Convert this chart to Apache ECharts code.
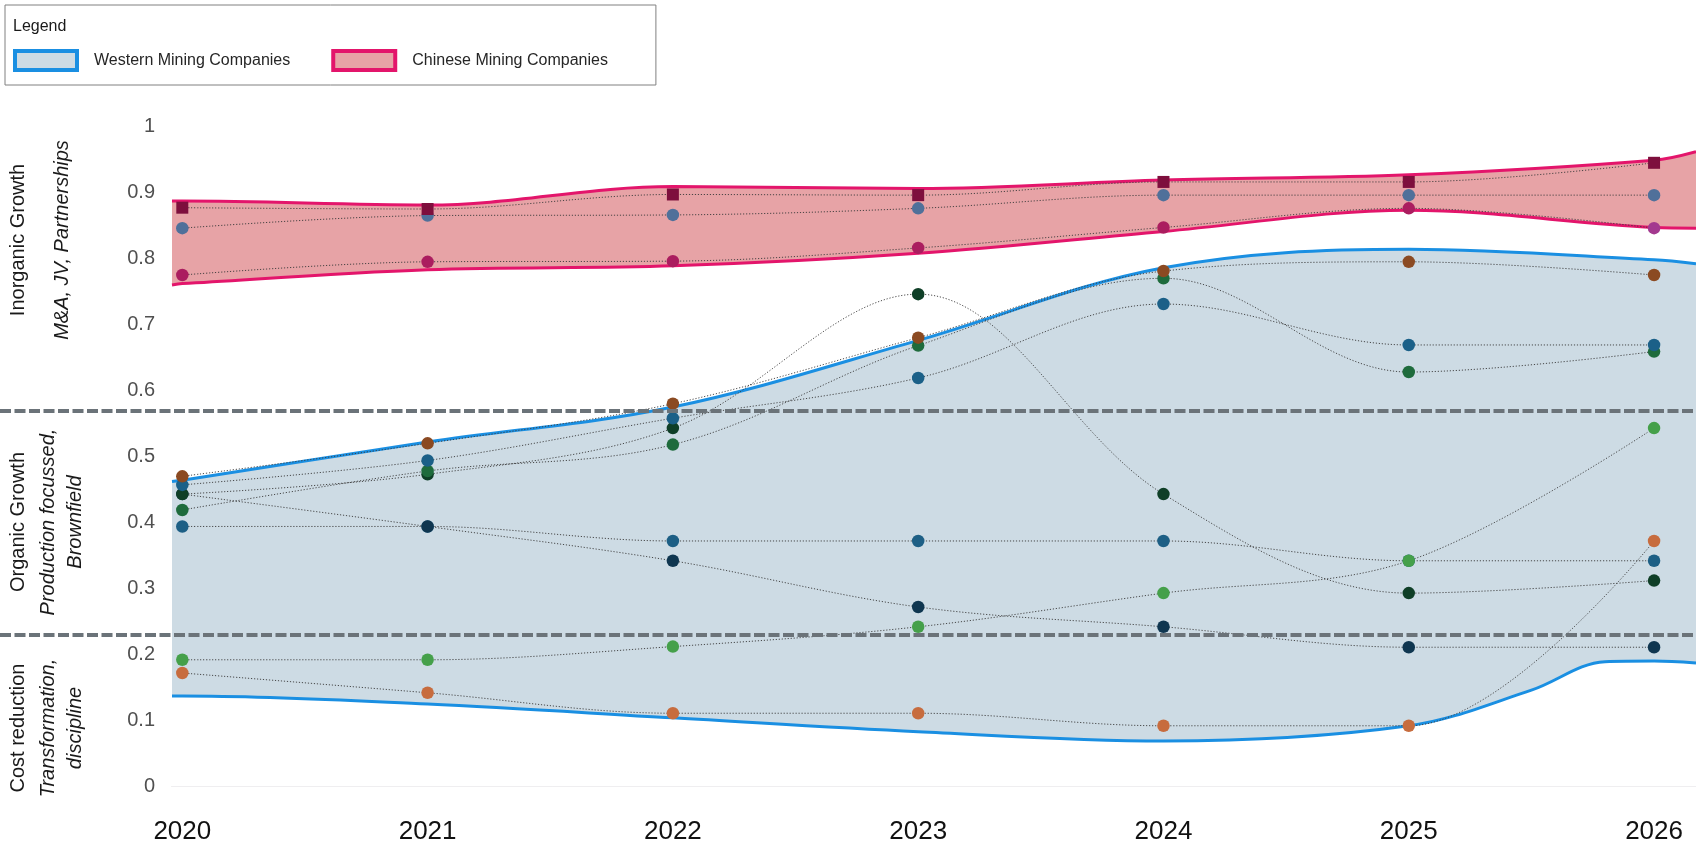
<!DOCTYPE html>
<html>
<head>
<meta charset="utf-8">
<script src="https://cdn.jsdelivr.net/npm/echarts@6/dist/echarts.min.js"></script>
<style>
html,body{margin:0;padding:0;background:#ffffff;}
#chart{width:1696px;height:846px;}
</style>
</head>
<body>
<div id="chart"></div>
<script>
// ---------- DATA ----------
const years = [2020, 2021, 2022, 2023, 2024, 2025, 2026];
const xMin = 2019.958;
const xMax = 2026.171;

// Chinese mining companies
const cnSquare  = [0.877, 0.875, 0.897, 0.896, 0.916, 0.916, 0.945];
const cnCircle  = [0.846, 0.865, 0.866, 0.876, 0.896, 0.896, 0.896];
const cnMagenta = [0.775, 0.795, 0.796, 0.816, 0.847, 0.876, 0.846];

// Western mining companies
const wBrown      = [0.470, 0.520, 0.580, 0.680, 0.781, 0.795, 0.775];
const wTealA      = [0.457, 0.494, 0.558, 0.619, 0.731, 0.669, 0.669];
const wGreen      = [0.419, 0.478, 0.518, 0.668, 0.770, 0.628, 0.659];
const wDark       = [0.443, 0.473, 0.543, 0.746, 0.443, 0.293, 0.312];
const wTealB      = [0.394, 0.394, 0.372, 0.372, 0.372, 0.342, 0.342];
const wNavy       = [0.443, 0.394, 0.342, 0.272, 0.242, 0.211, 0.211];
const wLightGreen = [0.192, 0.192, 0.212, 0.242, 0.293, 0.342, 0.543];
const wOrange     = [0.172, 0.142, 0.111, 0.111, 0.092, 0.092, 0.372];

// Envelope bands
const cnUpperX = [2019.958, 2020, 2021, 2022, 2023, 2024, 2025, 2026, 2026.171];
const cnUpper  = [0.887, 0.887, 0.881, 0.909, 0.906, 0.919, 0.927, 0.949, 0.962];
const cnLowerX = [2019.958, 2020, 2021, 2022, 2023, 2024, 2025, 2026, 2026.171];
const cnLower  = [0.760, 0.762, 0.783, 0.789, 0.808, 0.841, 0.873, 0.847, 0.846];
const wUpperX  = [2019.958, 2020, 2021, 2022, 2023, 2024, 2025, 2026, 2026.171];
const wUpper   = [0.462, 0.464, 0.522, 0.575, 0.676, 0.786, 0.814, 0.798, 0.792];
const wLowerX  = [2019.958, 2020, 2021, 2022, 2023, 2024, 2025, 2025.5, 2025.8, 2026, 2026.171];
const wLower   = [0.137, 0.137, 0.125, 0.104, 0.083, 0.069, 0.092, 0.146, 0.189, 0.190, 0.187];

// Section dividers on the y scale
const sectionBreaks = [0.57, 0.23];

// Legend / axis names
const legendNames = ['Western Mining Companies', 'Chinese Mining Companies'];
const sectionTitles = ['Inorganic Growth', 'Organic Growth', 'Cost reduction'];
const sectionSubtitles = ['M&A, JV, Partnerships', 'Production focussed,\nBrownfield', 'Transformation,\ndiscipline'];

// ---------- STYLES ----------
const C = {
  wLine: '#1a8fe2', wFill: '#cddbe4',
  cnLine: '#e3156b', cnFill: '#e7a3a6',
  dotLine: '#3a3a3a', divider: '#6b7379'
};
const FONT = "'Liberation Sans', Arial, sans-serif";
const SMOOTH = 0.35;

function zip(xs, ys) { return xs.map((x, i) => [x, ys[i]]); }

function bandSeries(name, xs, ys, lineColor, fillColor) {
  return {
    name: name, type: 'line', data: zip(xs, ys), smooth: SMOOTH,
    symbol: 'none', silent: true, z: 2,
    lineStyle: { color: lineColor, width: 3 },
    itemStyle: { color: lineColor },
    areaStyle: { color: fillColor, opacity: 1, origin: 'start' }
  };
}

function companySeries(name, vals, color, symbol, pointColors) {
  return {
    name: name, type: 'line', smooth: SMOOTH, z: 4, silent: true,
    data: vals.map((v, i) => {
      const d = { value: [years[i], v] };
      if (pointColors && pointColors[i]) d.itemStyle = { color: pointColors[i] };
      return d;
    }),
    symbol: symbol || 'circle', symbolSize: symbol === 'rect' ? 12 : 12.5, showSymbol: true,
    itemStyle: { color: color, opacity: 1 },
    lineStyle: { color: C.dotLine, width: 1, type: [1.2, 1.8], opacity: 0.9 }
  };
}

const magentaColors = [null, null, null, null, null, null, '#a3398f'];

const series = [
  bandSeries(legendNames[1], cnUpperX, cnUpper, C.cnLine, C.cnFill),
  bandSeries('cnLowerEdge', cnLowerX, cnLower, C.cnLine, '#ffffff'),
  bandSeries(legendNames[0], wUpperX, wUpper, C.wLine, C.wFill),
  bandSeries('wLowerEdge', wLowerX, wLower, C.wLine, '#ffffff'),

  companySeries('CN circle', cnCircle, '#50709a'),
  companySeries('CN magenta', cnMagenta, '#ab1d5f', 'circle', magentaColors),
  companySeries('CN square', cnSquare, '#7e0f3d', 'rect'),

  companySeries('W tealB', wTealB, '#1d5f85'),
  companySeries('W navy', wNavy, '#0f3650'),
  companySeries('W dark', wDark, '#0f3f27'),
  companySeries('W green', wGreen, '#1e6b3c'),
  companySeries('W tealA', wTealA, '#1b6088'),
  companySeries('W brown', wBrown, '#8b4a22'),
  companySeries('W orange', wOrange, '#c76c3e'),
  companySeries('W lightgreen', wLightGreen, '#45a04a'),

  {
    name: 'dividers', type: 'line', xAxisIndex: 1, yAxisIndex: 1, data: [],
    silent: true, z: 3,
    markLine: {
      silent: true, symbol: ['none', 'none'], label: { show: false },
      lineStyle: { color: C.divider, width: 4, type: [11, 3.5], opacity: 1 },
      emphasis: { disabled: true },
      data: sectionBreaks.map(v => ({ yAxis: v }))
    }
  }
];

const sectionCenters = [240, 522, 728];
const graphics = [];
sectionTitles.forEach((t, i) => {
  graphics.push({
    type: 'text', x: 18, y: sectionCenters[i], rotation: Math.PI / 2, silent: true,
    style: { text: t, fontSize: 20, fontFamily: FONT, fill: '#1a1a1a', align: 'center', verticalAlign: 'middle' }
  });
  graphics.push({
    type: 'text', x: 62, y: sectionCenters[i], rotation: Math.PI / 2, silent: true,
    style: { text: sectionSubtitles[i], fontSize: 20, fontStyle: 'italic', fontFamily: FONT, fill: '#1a1a1a',
             align: 'center', verticalAlign: 'middle', lineHeight: 27 }
  });
});

const option = {
  animation: false,
  backgroundColor: '#ffffff',
  title: {
    text: 'Legend', left: 8, top: 14,
    textStyle: { fontSize: 16, fontWeight: 'normal', color: '#1a1a1a', fontFamily: FONT }
  },
  legend: {
    left: 5, top: 5,
    padding: [44, 48, 13, 8],
    borderColor: '#808080', borderWidth: 1,
    icon: 'rect', itemWidth: 62, itemHeight: 19, itemGap: 41,
    selectedMode: false,
    textStyle: { fontSize: 16, color: '#262626', fontFamily: FONT, padding: [0, 0, 0, 12] },
    data: [
      { name: legendNames[0], itemStyle: { color: C.wFill, borderColor: C.wLine, borderWidth: 4 } },
      { name: legendNames[1], itemStyle: { color: C.cnFill, borderColor: C.cnLine, borderWidth: 4 } }
    ]
  },
  grid: [
    { left: 172, right: 0, top: 126.5, bottom: 59.5 },
    { left: 0, right: 0, top: 126.5, bottom: 59.5 }
  ],
  xAxis: [
    {
      type: 'value', min: xMin, max: xMax, offset: 7,
      axisLine: { show: true, lineStyle: { color: '#d9d9d9', width: 1 } },
      axisTick: { show: false }, splitLine: { show: false },
      axisLabel: { customValues: years, fontSize: 26, color: '#111111', margin: 25, fontFamily: FONT,
                   formatter: v => String(Math.round(v)) }
    },
    { gridIndex: 1, type: 'value', min: 0, max: 1, show: false }
  ],
  yAxis: [
    {
      type: 'value', min: 0, max: 1, interval: 0.1,
      axisLine: { show: false }, axisTick: { show: false }, splitLine: { show: false },
      axisLabel: { fontSize: 20, color: '#505050', margin: 17, fontFamily: FONT }
    },
    { gridIndex: 1, type: 'value', min: 0, max: 1, show: false }
  ],
  graphic: graphics,
  series: series
};

const chart = echarts.init(document.getElementById('chart'), null, { renderer: 'canvas' });
chart.setOption(option);
</script>
</body>
</html>
